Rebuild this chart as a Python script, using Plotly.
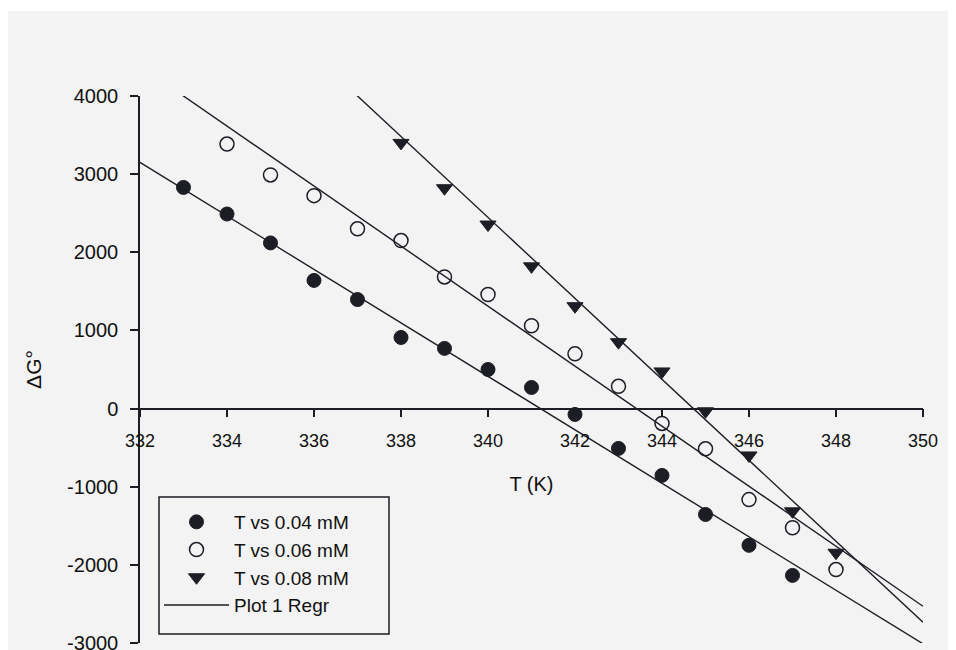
import plotly.graph_objects as go

# ---- data ----
t_004 = [333, 334, 335, 336, 337, 338, 339, 340, 341, 342, 343, 344, 345, 346, 347]
g_004 = [2830, 2490, 2120, 1640, 1395, 910, 770, 500, 270, -75, -510, -855, -1355, -1750, -2135]

t_006 = [334, 335, 336, 337, 338, 339, 340, 341, 342, 343, 344, 345, 346, 347, 348]
g_006 = [3385, 2990, 2725, 2300, 2150, 1685, 1460, 1060, 700, 285, -190, -515, -1165, -1525, -2060]

t_008 = [338, 339, 340, 341, 342, 343, 344, 345, 346, 347, 348]
g_008 = [3400, 2820, 2355, 1820, 1310, 850, 475, -35, -600, -1315, -1845]

# regression lines: value at T = 332 and T = 350
reg_t = [332, 350]
reg_004 = [3150, -3010]
reg_006 = [4384, -2530]
reg_008 = [6590, -2734]

x_ticks = [332, 334, 336, 338, 340, 342, 344, 346, 348, 350]
y_ticks = [-3000, -2000, -1000, 0, 1000, 2000, 3000, 4000]

INK = "#1d1d26"
BG = "#f2f3f2"
FONT = "Liberation Sans, Arial, sans-serif"

fig = go.Figure()

fig.add_trace(go.Scatter(
    x=t_004, y=g_004, mode="markers", name="T vs 0.04 mM",
    marker=dict(symbol="circle", size=14, color=INK, line=dict(color=INK, width=1)),
))
fig.add_trace(go.Scatter(
    x=t_006, y=g_006, mode="markers", name="T vs 0.06 mM",
    marker=dict(symbol="circle-open", size=14, color=INK, line=dict(color=INK, width=1.5)),
))
fig.add_trace(go.Scatter(
    x=t_008, y=g_008, mode="markers", name="T vs 0.08 mM",
    marker=dict(symbol="triangle-down", size=14, color=INK, line=dict(color=INK, width=1)),
))

reg_x = reg_t + [None] + reg_t + [None] + reg_t
reg_y = reg_004 + [None] + reg_006 + [None] + reg_008
fig.add_trace(go.Scatter(
    x=reg_x, y=reg_y, mode="lines", name="Plot 1 Regr",
    line=dict(color=INK, width=1.4), connectgaps=False,
))

# the page body adds an 8px margin, so the figure is 948x642
W, H = 948, 642
ML, MR, MT, MB = 132, 33, 88, 7
plot_h = H - MT - MB
plot_w = W - ML - MR


def px_x(p):  # figure pixel -> paper x
    return (p - ML) / plot_w


def px_y(p):  # figure pixel -> paper y
    return (H - MB - p) / plot_h


fig.update_layout(
    width=W, height=H,
    margin=dict(l=ML, r=MR, t=MT, b=MB),
    paper_bgcolor=BG, plot_bgcolor=BG,
    font=dict(family=FONT, color="#111111", size=18),
    showlegend=True,
    legend=dict(
        x=px_x(151), y=px_y(495), xanchor="left", yanchor="top",
        bgcolor="rgba(0,0,0,0)", borderwidth=0,
        font=dict(size=19, family=FONT, color="#111111"),
        itemwidth=65, tracegroupgap=0,
    ),
    xaxis=dict(
        range=[332, 350], tickvals=x_ticks, ticktext=[str(v) for v in x_ticks],
        showgrid=False, zeroline=False, showline=True, linecolor=INK, linewidth=1.5,
        ticks="outside", ticklen=8, tickwidth=1.5, tickcolor=INK,
        anchor="free", position=3 / 7, automargin=False,
        tickfont=dict(size=18), ticklabelstandoff=8,
        title=dict(text="T (K)", font=dict(size=20), standoff=26),
    ),
    yaxis=dict(
        range=[-3000, 4000], tickvals=y_ticks, ticktext=[str(v) for v in y_ticks],
        showgrid=False, zeroline=False, showline=True, linecolor=INK, linewidth=1.5,
        ticks="outside", ticklen=8, tickwidth=1.5, tickcolor=INK,
        automargin=False, tickfont=dict(size=20), ticklabelstandoff=8,
        ticklabeloverflow="allow",
        title=dict(text="ΔG°", font=dict(size=21), standoff=20),
    ),
    shapes=[
        dict(type="rect", xref="paper", yref="paper", x0=-0.5, x1=1.5,
             y0=1 + (MT - 3) / plot_h, y1=1.5, fillcolor="white", line=dict(width=0), layer="below"),
        # legend frame
        dict(type="rect", xref="paper", yref="paper", x0=px_x(151), x1=px_x(381),
             y0=px_y(626), y1=px_y(489), fillcolor="rgba(0,0,0,0)",
             line=dict(color=INK, width=1.5), layer="above"),
    ],
)

fig.write_html("out.html")
